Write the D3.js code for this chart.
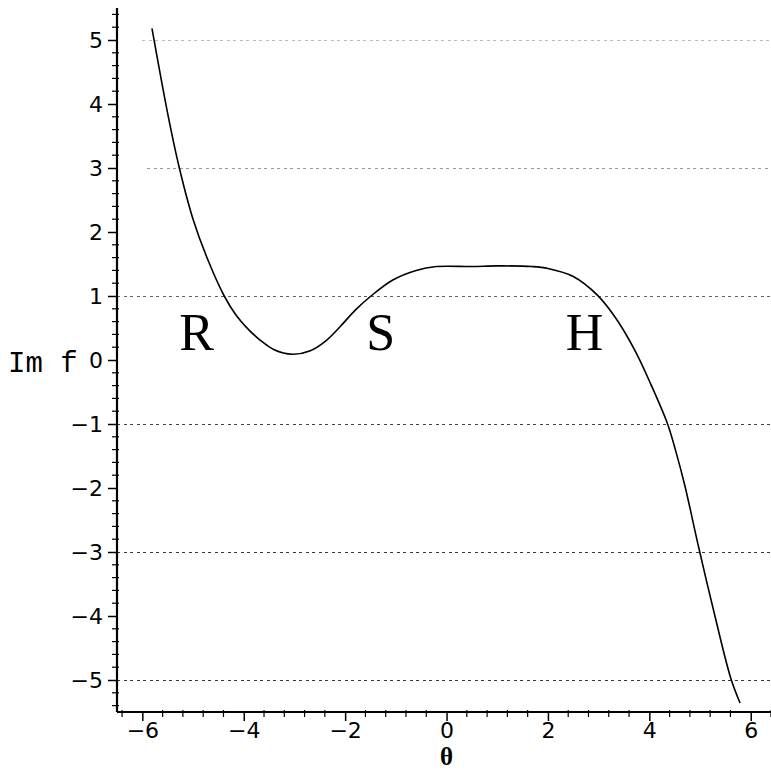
<!DOCTYPE html>
<html>
<head>
<meta charset="utf-8">
<script src="https://cdn.jsdelivr.net/npm/d3@7"></script>
<style>
  body { margin: 0; background: #fff; }
  svg { display: block; }
</style>
</head>
<body>
<svg width="771" height="772"></svg>
<script>
// curve: theta vs Im f
var theta = [-5.81, -5.5, -5.27, -5.0, -4.7, -4.385, -4.15, -3.9, -3.69, -3.4, -3.04, -2.7, -2.38, -2.1, -1.8, -1.49, -1.06, -0.6, -0.2, 0.5, 1.0, 1.69, 2.0, 2.5, 2.98, 3.35, 3.735, 4.03, 4.36, 4.52, 4.7, 4.98, 5.3, 5.61, 5.79];
var imf   = [5.18, 3.85, 3.0, 2.2, 1.55, 1.0, 0.7, 0.47, 0.32, 0.16, 0.09, 0.14, 0.3, 0.52, 0.78, 1.0, 1.25, 1.4, 1.46, 1.46, 1.47, 1.46, 1.43, 1.305, 1.01, 0.64, 0.12, -0.38, -1.0, -1.42, -1.96, -2.95, -4.02, -4.98, -5.36];

var xTicks = [-6, -4, -2, 0, 2, 4, 6];
var yTicks = [-5, -4, -3, -2, -1, 0, 1, 2, 3, 4, 5];
var levels = [5, 3, 1, -1, -3, -5];
var levelStart = [-6.0, -5.9, -6.5, -6.5, -6.5, -6.5];
var levelFade = [0.3, 0.45, 0.7, 0.85, 0.9, 0.9];
var regionNames = ["R", "S", "H"];
var regionTheta = [-4.93, -1.3, 2.72];
var regionY = 0.16;

var svg = d3.select("svg");

var x = d3.scaleLinear().domain([-6.5, 6.4]).range([117, 771]);
var y = d3.scaleLinear().domain([-5.5, 5.5]).range([712, 8]);

// dashed level lines
svg.append("g")
  .selectAll("line")
  .data(levels)
  .enter()
  .append("line")
  .attr("x1", (d, i) => x(levelStart[i]))
  .attr("x2", x(6.4))
  .attr("y1", d => y(d) + 0.5)
  .attr("y2", d => y(d) + 0.5)
  .attr("stroke", "#222")
  .attr("stroke-width", 1)
  .attr("stroke-dasharray", "3,3.5")
  .attr("shape-rendering", "crispEdges")
  .attr("opacity", (d, i) => levelFade[i]);

// minor ticks
var yMinor = d3.range(-27, 28).map(k => k * 0.2).filter(v => Math.abs(v - Math.round(v)) > 1e-6);
var xMinor = d3.range(-16, 17).map(k => k * 0.4).filter(v => Math.abs(v / 2 - Math.round(v / 2)) > 1e-6 && v >= -6.5 && v <= 6.4);

svg.append("g")
  .selectAll("line")
  .data(yMinor)
  .enter()
  .append("line")
  .attr("x1", 112).attr("x2", 119)
  .attr("y1", d => y(d)).attr("y2", d => y(d))
  .attr("stroke", "#000").attr("stroke-width", 1.2);

svg.append("g")
  .selectAll("line")
  .data(xMinor)
  .enter()
  .append("line")
  .attr("y1", 710).attr("y2", 717)
  .attr("x1", d => x(d)).attr("x2", d => x(d))
  .attr("stroke", "#000").attr("stroke-width", 1.2);

// axes
var yAxis = d3.axisLeft(y)
  .tickValues(yTicks)
  .tickSize(9)
  .tickPadding(5)
  .tickFormat(d => d < 0 ? "\u2212" + Math.abs(d) : d);

var xAxis = d3.axisBottom(x)
  .tickValues(xTicks)
  .tickSize(9)
  .tickPadding(1)
  .tickFormat(d => d < 0 ? "\u2212" + Math.abs(d) : d);

var gy = svg.append("g")
  .attr("transform", "translate(117,0)")
  .call(yAxis);

var gx = svg.append("g")
  .attr("transform", "translate(0,712)")
  .call(xAxis);

[gx, gy].forEach(g => {
  g.select(".domain").attr("stroke", "#000").attr("stroke-width", 2.2);
  g.selectAll(".tick line").attr("stroke", "#000").attr("stroke-width", 1.5);
  g.selectAll(".tick text")
    .attr("fill", "#000")
    .attr("font-family", "DejaVu Sans")
    .attr("font-size", 22);
});
gy.select(".domain").attr("d", "M0,8V712");
gx.select(".domain").attr("d", "M117,0H771");

// curve
var line = d3.line()
  .x((d, i) => x(theta[i]))
  .y(d => y(d))
  .curve(d3.curveCatmullRom.alpha(0.5));

svg.append("path")
  .datum(imf)
  .attr("d", line)
  .attr("fill", "none")
  .attr("stroke", "#000")
  .attr("stroke-width", 1.6);

// region letters
svg.append("g")
  .selectAll("text")
  .data(regionNames)
  .enter()
  .append("text")
  .attr("x", (d, i) => x(regionTheta[i]))
  .attr("y", y(regionY))
  .attr("text-anchor", "middle")
  .attr("font-family", "Liberation Serif")
  .attr("font-size", 52)
  .attr("fill", "#000")
  .text(d => d);

// axis titles
svg.append("text")
  .attr("x", 8)
  .attr("y", 372)
  .attr("font-family", "Liberation Mono")
  .attr("font-size", 29)
  .attr("fill", "#000")
  .text("Im f");

svg.append("text")
  .attr("x", x(0))
  .attr("y", 765)
  .attr("text-anchor", "middle")
  .attr("font-family", "Liberation Serif")
  .attr("font-size", 25)
  .attr("font-weight", "bold")
  .attr("fill", "#000")
  .text("\u03b8");
</script>
</body>
</html>
